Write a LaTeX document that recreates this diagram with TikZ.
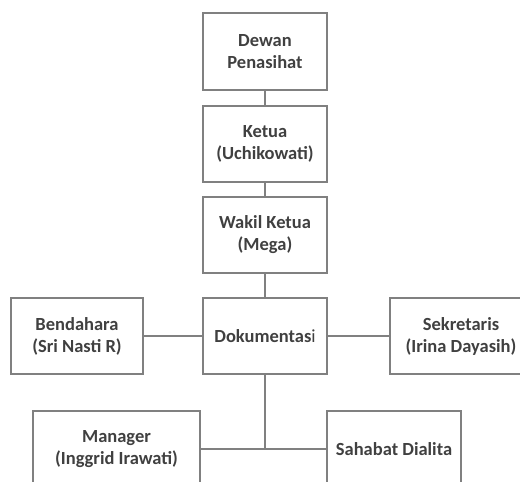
\documentclass[tikz,border=0pt]{standalone}
\usepackage{fontspec}
\setmainfont{Carlito}
\usepackage{tikz}
\usetikzlibrary{calc}
\usetikzlibrary{positioning}
\definecolor{linegray}{HTML}{808080}
\definecolor{textgray}{HTML}{404040}
\tikzstyle{orgbox} = [rectangle, draw = linegray, line width = 1.2pt, inner sep = 0, align = center, text = textgray, font = \fontsize{18.5}{22}\selectfont\bfseries, minimum height = 76pt]
\tikzstyle{link} = [-, draw = linegray, line width = 1.2pt]

\begin{document}
\begin{tikzpicture}[x = 1pt, y = -1pt]
\clip (0, 0) rectangle (520, 482);
%\node [draw=none] at (265, 0) {Struktur};
\node [orgbox, minimum width = 124pt, minimum height = 77pt] (dewan) at (265, 51.5) {Dewan\\Penasihat};
\node [orgbox, minimum width = 124pt] (ketua) at (265, 144) {Ketua\\(Uchikowati)};
\node [orgbox, minimum width = 124pt] (wakil) at (265, 235) {Wakil Ketua\\(Mega)};
\node [orgbox, minimum width = 124pt] (dok) at (265, 336) {Dokumentas{\mdseries i}};
\node [orgbox, minimum width = 132pt] (bendahara) at (77, 336) {Bendahara\\(Sri Nasti R)};
\node [orgbox, minimum width = 142pt] (sekretaris) at (461, 336) {Sekretaris\\(Irina Dayasih)};
\node [orgbox, minimum width = 167pt] (manager) at (116.5, 449) {Manager\\(Inggrid Irawati)};
\node [orgbox, minimum width = 134pt] (sahabat) at (394, 449) {Sahabat Dialita};
\coordinate (split) at (dok.south |- manager.east);
\draw [link] (dewan) -- (ketua);
\draw [link] (ketua) -- (wakil);
\draw [link] (wakil) -- (dok);
\draw [link] (bendahara) -- (dok);
\draw [link] (dok) -- (sekretaris);
\draw [link] (dok) -- (split);
\draw [link] (manager) -- (sahabat);
\end{tikzpicture}
\end{document}
